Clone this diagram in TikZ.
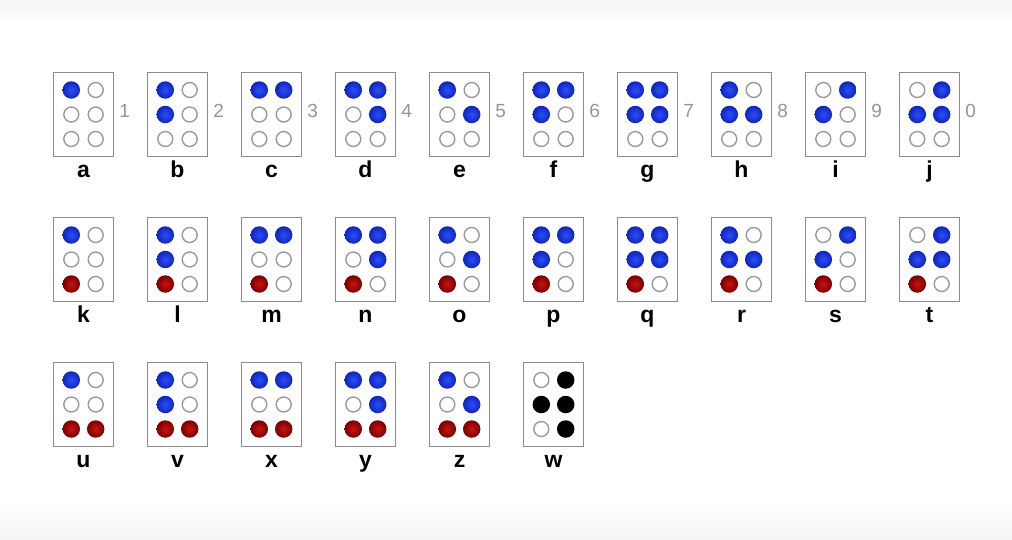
\documentclass[tikz,border=0pt]{standalone}
\usepackage{fontspec}
\setmainfont{Liberation Sans}
\usetikzlibrary{positioning,calc}
\definecolor{cellline}{HTML}{8C8C8C}
\definecolor{holeline}{HTML}{9A9A9A}
\definecolor{blueinner}{HTML}{2A4DFF}
\definecolor{blueouter}{HTML}{1226B4}
\definecolor{redinner}{HTML}{C81414}
\definecolor{redouter}{HTML}{7A0000}
\definecolor{digitgray}{HTML}{959595}
\tikzset{cell/.style={draw=cellline,line width=1.4pt,fill=white,minimum width=60pt,minimum height=84pt,inner sep=0pt},dotO/.style={circle,draw=holeline,line width=1.4pt,fill=white,minimum size=15pt,inner sep=0pt},dotB/.style={circle,minimum size=17.5pt,inner sep=0pt,inner color=blueinner,outer color=blueouter},dotR/.style={circle,minimum size=17.5pt,inner sep=0pt,inner color=redinner,outer color=redouter},dotK/.style={circle,minimum size=17.5pt,inner sep=0pt,fill=black},letter/.style={font=\fontsize{23}{23}\selectfont\bfseries,inner sep=0pt,text height=17pt,text depth=5pt},digit/.style={font=\fontsize{19}{19}\selectfont,text=digitgray,inner sep=0pt,anchor=base west}}
\begin{document}
\begin{tikzpicture}[x=1pt,y=-1pt]
\useasboundingbox (0,0) rectangle (1012,539);
\fill[white] (0,0) rectangle (1012,539);
\shade[top color=black!4,bottom color=white] (0,0) rectangle (1012,26);
\shade[top color=white,bottom color=black!4] (0,505) rectangle (1012,539);
% cells: letter/column/row/dots 1-6
\foreach \ch/\col/\row/\pat in {a/0/0/{B,O,O,O,O,O},b/1/0/{B,B,O,O,O,O},c/2/0/{B,O,O,B,O,O},d/3/0/{B,O,O,B,B,O},e/4/0/{B,O,O,O,B,O},f/5/0/{B,B,O,B,O,O},g/6/0/{B,B,O,B,B,O},h/7/0/{B,B,O,O,B,O},i/8/0/{O,B,O,B,O,O},j/9/0/{O,B,O,B,B,O},
  k/0/1/{B,O,R,O,O,O},l/1/1/{B,B,R,O,O,O},m/2/1/{B,O,R,B,O,O},n/3/1/{B,O,R,B,B,O},o/4/1/{B,O,R,O,B,O},p/5/1/{B,B,R,B,O,O},q/6/1/{B,B,R,B,B,O},r/7/1/{B,B,R,O,B,O},s/8/1/{O,B,R,B,O,O},t/9/1/{O,B,R,B,B,O},
  u/0/2/{B,O,R,O,O,R},v/1/2/{B,B,R,O,O,R},x/2/2/{B,O,R,B,O,R},y/3/2/{B,O,R,B,B,R},z/4/2/{B,O,R,O,B,R},w/5/2/{O,K,O,K,K,K}}{
  \node[cell] (box-\ch) at (83.5+94*\col,114.5+145*\row) {};
  \node[letter,below=3pt of box-\ch] (lab-\ch) {\ch};
  \foreach \c [count=\k] in \pat {
    \pgfmathsetmacro\dx{ifthenelse(\k>3,12.2,-12.2)}
    \pgfmathsetmacro\dy{(mod(\k-1,3)-1)*24.5}
    \node[dot\c] (\ch-\k) at ($(box-\ch)+(\dx,\dy)$) {};
  }
}
% digits next to the first row
\foreach \ch/\num in {a/1,b/2,c/3,d/4,e/5,f/6,g/7,h/8,i/9,j/0}
  \node[digit] (num-\ch) at ($(box-\ch.east)+(5,2.5)$) {\num};
\end{tikzpicture}
\end{document}
